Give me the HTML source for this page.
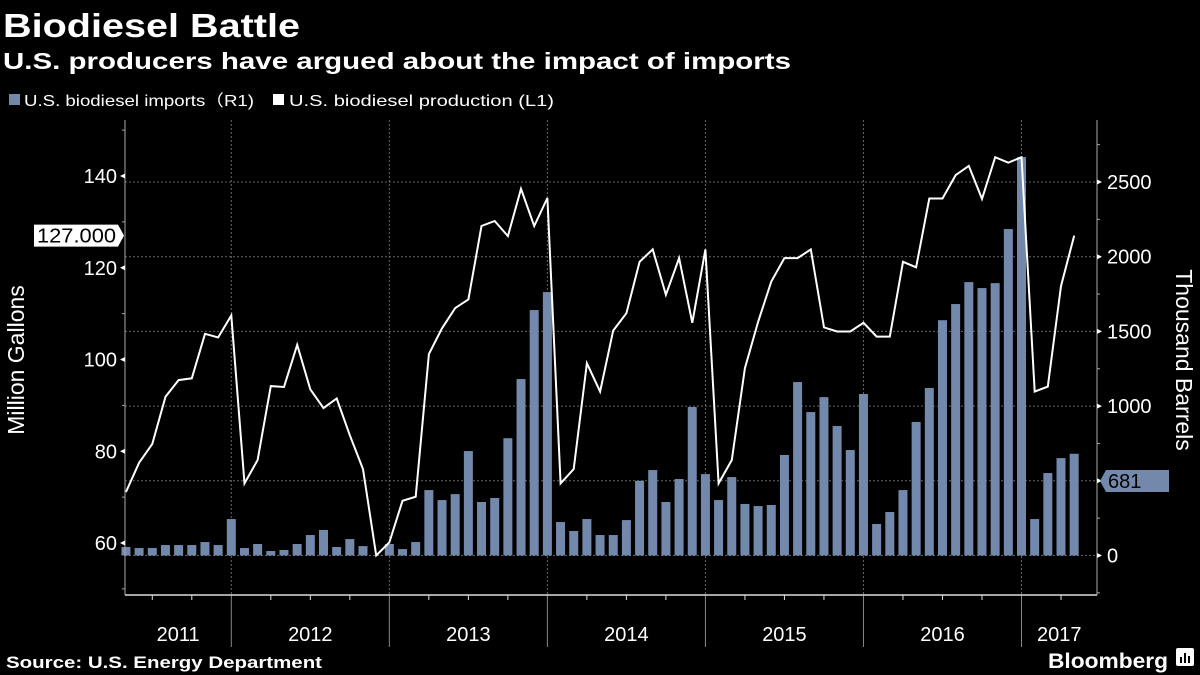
<!DOCTYPE html>
<html><head><meta charset="utf-8"><style>
html,body{margin:0;padding:0;background:#000;}
svg{display:block;font-family:"Liberation Sans",sans-serif;}
</style></head><body>
<svg id="chart" width="1200" height="675" viewBox="0 0 1200 675">
<rect width="1200" height="675" fill="#000"/>
<text x="3" y="37" fill="#fff" font-size="33" font-weight="bold" textLength="297" lengthAdjust="spacingAndGlyphs">Biodiesel Battle</text>
<text x="3" y="69" fill="#fff" font-size="23" font-weight="bold" textLength="788" lengthAdjust="spacingAndGlyphs">U.S. producers have argued about the impact of imports</text>
<g>
<rect x="9" y="94" width="11" height="11" fill="#7389ab"/>
<text x="24" y="106" fill="#fff" font-size="16" textLength="230" lengthAdjust="spacingAndGlyphs">U.S. biodiesel imports（R1)</text>
<rect x="273" y="94" width="11" height="11" fill="#fff"/>
<text x="289" y="106" fill="#fff" font-size="16" textLength="265" lengthAdjust="spacingAndGlyphs">U.S. biodiesel production (L1)</text>
</g>
<g id="grid"></g>
<g id="bars"></g>
<g id="line"></g>
<g id="axes"></g>
<text transform="translate(24,360) rotate(-90)" text-anchor="middle" fill="#fff" font-size="23">Million Gallons</text>
<text transform="translate(1176,360) rotate(90)" text-anchor="middle" fill="#fff" font-size="23">Thousand Barrels</text>
<text x="6" y="668" fill="#fff" font-size="17" font-weight="bold" textLength="316" lengthAdjust="spacingAndGlyphs">Source: U.S. Energy Department</text>
<text x="1048" y="668" fill="#fff" font-size="21" font-weight="bold" textLength="120" lengthAdjust="spacingAndGlyphs">Bloomberg</text>
<g><rect x="1176" y="648" width="18" height="18" rx="2" fill="#fff"/><rect x="1180" y="657" width="2" height="6" fill="#000"/><rect x="1184" y="653" width="2" height="10" fill="#000"/><rect x="1188" y="656" width="2" height="7" fill="#000"/></g>
</svg>
<script>
// Data: monthly, Apr 2011 .. Apr 2017
const startYear = 2011, startMonth = 4;
const importsKbbl = [57,50,50,70,70,70,90,70,244,
 50,77,30,37,77,137,171,57,110,63,0,77,
 43,90,438,371,411,699,358,385,785,1181,1643,1763,
 224,164,244,137,137,237,500,572,358,512,994,545,
 371,525,345,331,338,673,1161,960,1060,867,706,1081,
 211,291,438,894,1121,1575,1683,1830,1790,1823,2185,2667,
 244,552,652,681];
const productionMgal = [71.1,77.5,81.6,91.9,95.5,95.9,105.6,104.8,109.6,
 73.0,78.1,94.2,94.0,103.2,93.5,89.4,91.5,83.5,76.1,57.3,60.1,
 69.2,70.1,101.2,106.8,111.2,113.1,129.1,130.2,126.9,137.2,129.1,135.2,
 73.0,76.1,99.2,93.0,106.3,110.1,121.3,124.0,114.1,122.1,108.0,124.0,
 73.0,78.1,98.1,108.2,117.0,122.1,122.1,124.0,107.0,106.1,106.1,108.0,
 105.0,105.0,121.3,120.1,135.1,135.1,140.2,142.2,135.0,144.1,142.9,144.1,
 93.0,94.1,116.0,127.0];
const leftTicks = [60,80,100,120,140];
const rightTicks = [0,500,1000,1500,2000,2500];
const yearLabels = ["2011","2012","2013","2014","2015","2016","2017"];

const NS = "http://www.w3.org/2000/svg";
function mk(tag, attrs, parent){const e=document.createElementNS(NS,tag);for(const k in attrs)e.setAttribute(k,attrs[k]);parent.appendChild(e);return e;}
const step = 13.17, x0 = 231.3 - 8*step;
function xIdx(i){return x0 + i*step;}
function yL(v){return 543 - (v-60)*4.5875;}
function yR(v){return 555.5 - v*0.1494;}
const L=125, R=1097, T=120, B=595;
const grid=document.getElementById('grid'), bars=document.getElementById('bars'), line=document.getElementById('line'), axes=document.getElementById('axes');

rightTicks.forEach(v=>{
  const g=mk('line',{x1:L,x2:R,y1:yR(v),y2:yR(v),stroke:'#666','stroke-width':1,'stroke-dasharray':'2,2'},grid);
  
  
});
const nMonths = importsKbbl.length;
const decIdx=[]; for(let i=0;i<nMonths;i++){const m=(startMonth-1+i)%12; if(m===11) decIdx.push(i);}
decIdx.forEach(i=>{
  const g=mk('line',{x1:xIdx(i),x2:xIdx(i),y1:T,y2:B,stroke:'#666','stroke-width':1,'stroke-dasharray':'2,2'},grid);
  
  
  const s=mk('line',{x1:xIdx(i),x2:xIdx(i),y1:B,y2:647,stroke:'#888','stroke-width':1},axes);
  
  
});
importsKbbl.forEach((v,i)=>{
  const y=yR(v);
  const r=mk('rect',{x:xIdx(i)-4.5,y:y,width:9,height:Math.max(0,yR(0)-y),fill:'#7389ab'},bars);
  
  
});
const pts=productionMgal.map((v,i)=>xIdx(i).toFixed(1)+','+yL(v).toFixed(1)).join(' ');
const pl=mk('polyline',{points:pts,fill:'none',stroke:'#fff','stroke-width':2,'stroke-linejoin':'miter'},line);



const al=mk('line',{x1:L,x2:L,y1:T,y2:B,stroke:'#aaa','stroke-width':1},axes);


const ar=mk('line',{x1:R,x2:R,y1:T,y2:B,stroke:'#aaa','stroke-width':1},axes);


const ab=mk('line',{x1:L,x2:R,y1:B,y2:B,stroke:'#ddd','stroke-width':1.5},axes);


for(let v=50; v<=150; v+=10){
  const t=mk('line',{x1:L-3,x2:L,y1:yL(v),y2:yL(v),stroke:'#aaa'},axes);
  
  
}
leftTicks.forEach(v=>{
  const y=yL(v);
  const p=mk('path',{d:`M${L} ${y-2.5} L${L-5} ${y} L${L} ${y+2.5}Z`,fill:'#fff'},axes);
  
  
  const t=mk('text',{x:L-8,y:y+7,'text-anchor':'end',fill:'#fff','font-size':20},axes);
  t.textContent=v;
  
  
});
for(let v=-250; v<=2750; v+=250){
  const y=yR(v); if(y<T||y>B) continue;
  const t=mk('line',{x1:R,x2:R+3,y1:y,y2:y,stroke:'#aaa'},axes);
  
  
}
rightTicks.forEach(v=>{
  const y=yR(v);
  const p=mk('path',{d:`M${R} ${y-2.5} L${R+5} ${y} L${R} ${y+2.5}Z`,fill:'#fff'},axes);
  
  
  const t=mk('text',{x:R+10,y:y+7,fill:'#fff','font-size':20},axes);
  t.textContent=v;
  
  
});
for(let i=0;i<nMonths;i++){
  const m=(startMonth-1+i)%12;
  if(m%3===2 && m!==11){
    const t=mk('line',{x1:xIdx(i),x2:xIdx(i),y1:B,y2:B+5,stroke:'#ddd'},axes);
    
    
  }
}
yearLabels.forEach((lab,k)=>{
  const a = k===0 ? L : xIdx(decIdx[k-1]);
  const b = k<decIdx.length ? xIdx(decIdx[k]) : R;
  const t=mk('text',{x:(a+b)/2,y:641,'text-anchor':'middle',fill:'#fff','font-size':20},axes);
  t.textContent=lab;
  
  
});
const lastP=productionMgal[productionMgal.length-1], yp=yL(lastP);
const cp=mk('path',{d:`M34 ${yp-11} H118 L124 ${yp} L118 ${yp+11} H34Z`,fill:'#fff'},axes);


const ct=mk('text',{x:37,y:yp+7,fill:'#000','font-size':20,textLength:79,lengthAdjust:'spacingAndGlyphs'},axes);
ct.textContent=lastP.toFixed(3);


const lastI=importsKbbl[importsKbbl.length-1], yi=481;
const cb=mk('path',{d:`M1100 ${yi} L1106 ${yi-11} H1169 V${yi+11} H1106Z`,fill:'#7389ab'},axes);


const cbt=mk('text',{x:1108,y:yi+7,fill:'#000','font-size':20},axes);
cbt.textContent=lastI;


</script>
</body></html>
